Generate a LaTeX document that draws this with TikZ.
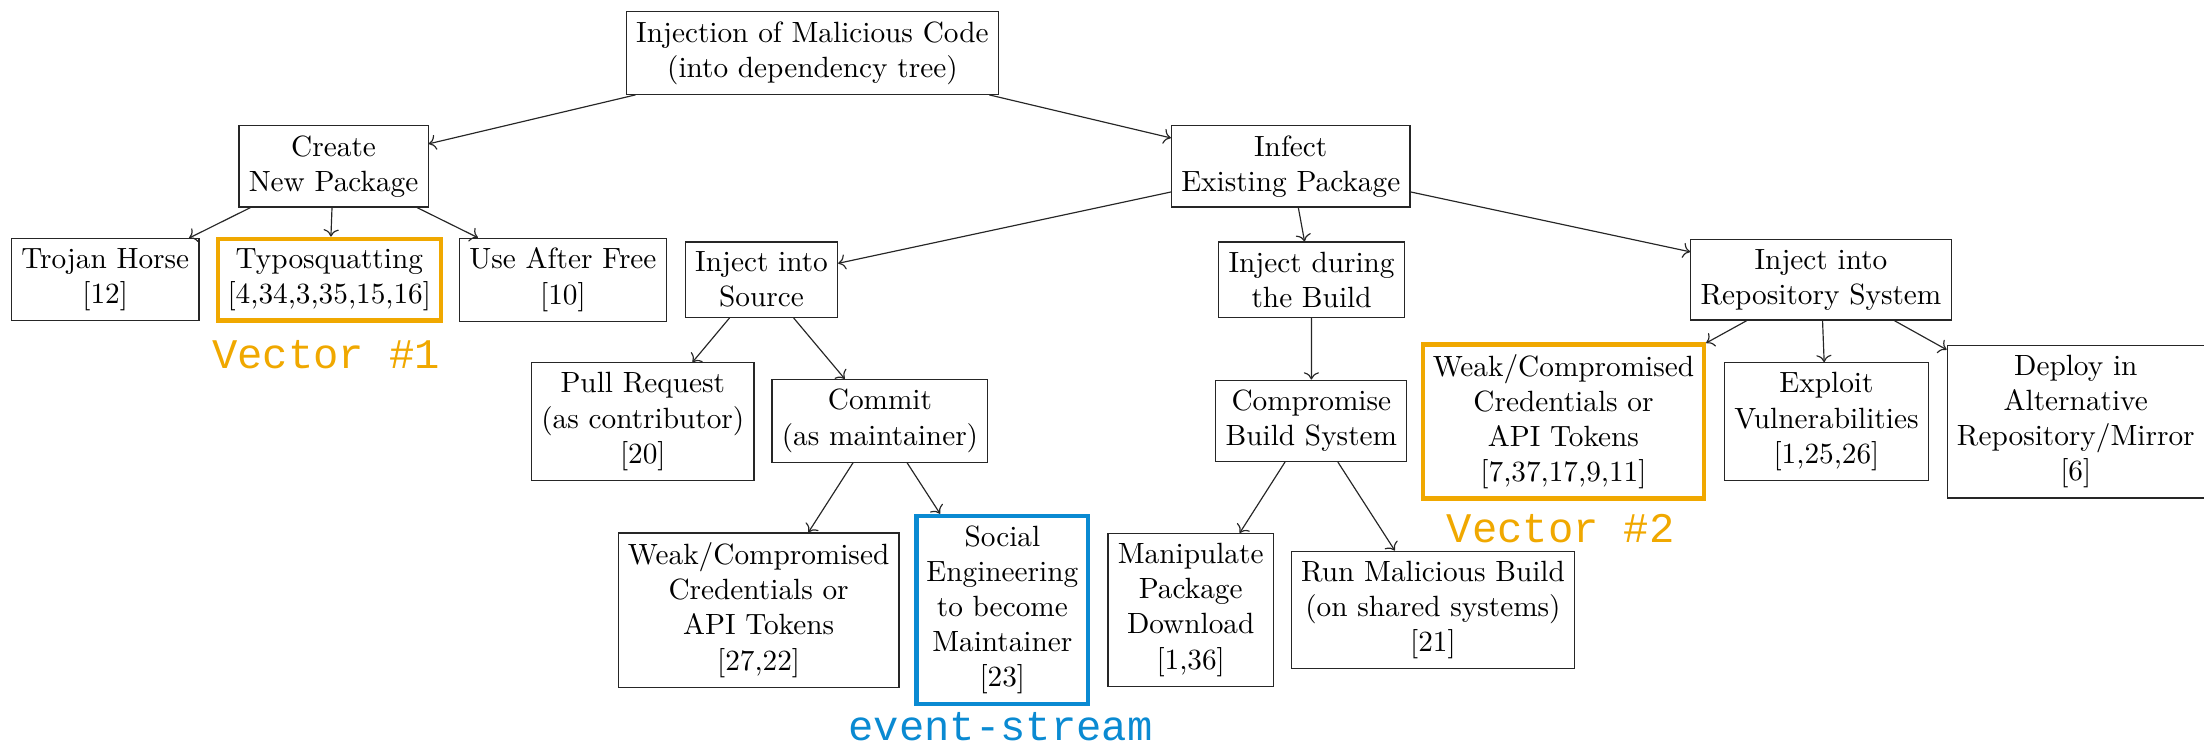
\documentclass[tikz,border=0pt]{standalone}
\usepackage{fontspec}
\usetikzlibrary{arrows.meta, positioning}
\newfontfamily\vecfont{Liberation Mono}
\definecolor{vecorange}{HTML}{F0A800}
\definecolor{vecblue}{HTML}{0A8AD2}

\begin{document}
\begin{tikzpicture}[
		box/.style={draw=black!85, align=center},
		hlbox/.style={draw=#1, line width=1.5pt, align=center},
		arr/.style={->, black!85},
		tag/.style={font=\vecfont\fontsize{14.4}{17}\selectfont, text=#1, inner sep=0pt},
		]
		\useasboundingbox (0,0) rectangle (26.45,-8.96);

		% Root
		\node[box] (root) at (9.750,-0.636)
		{Injection of Malicious Code\\(into dependency tree)};

		% Level 1
		\node[box] (create) at (4.003,-1.996) {Create\\New Package};
		\node[box] (infect) at (15.490,-1.996) {Infect\\Existing Package};

		% Level 2
		\node[box] (trojan) at (1.263,-3.357) {Trojan Horse\\{[12]}};
		\node[hlbox=vecorange] (typo) at (3.952,-3.357)
		{Typosquatting\\{[4,34,3,35,15,16]}};
		\node[box] (uaf) at (6.756,-3.357) {Use After Free\\{[10]}};
		\node[box] (src) at (9.139,-3.357) {Inject into\\Source};
		\node[box] (build) at (15.740,-3.357) {Inject during\\the Build};
		\node[box] (repo) at (21.853,-3.357) {Inject into\\Repository System};

		% Level 3
		\node[box] (pr) at (7.714,-5.059) {Pull Request\\(as contributor)\\{[20]}};
		\node[box] (commit) at (10.560,-5.050) {Commit\\(as maintainer)};
		\node[box] (cbs) at (15.737,-5.050) {Compromise\\Build System};
		\node[hlbox=vecorange] (weakrepo) at (18.763,-5.059)
		{Weak/Compromised\\Credentials or\\API Tokens\\{[7,37,17,9,11]}};
		\node[box] (exploit) at (21.919,-5.059)
		{Exploit\\Vulnerabilities\\{[1,25,26]}};
		\node[box] (deploy) at (24.911,-5.060)
		{Deploy in\\Alternative\\Repository/Mirror\\{[6]}};

		% Level 4
		\node[box] (weakcommit) at (9.104,-7.321)
		{Weak/Compromised\\Credentials or\\API Tokens\\{[27,22]}};
		\node[hlbox=vecblue] (social) at (12.029,-7.321)
		{Social\\Engineering\\to become\\Maintainer\\{[23]}};
		\node[box] (manip) at (14.289,-7.319)
		{Manipulate\\Package\\Download\\{[1,36]}};
		\node[box] (runbuild) at (17.197,-7.319)
		{Run Malicious Build\\(on shared systems)\\{[21]}};

		% Tags
		\node[tag=vecorange] (vec1) at (3.913,-4.259) {Vector \#1};
		\node[tag=vecorange] (vec2) at (18.730,-6.342) {Vector \#2};
		\node[tag=vecblue, anchor=base] (evs) at (12.007,-8.89) {event-stream};

		% Arrows
		\draw[arr] (root) -- (create);
		\draw[arr] (root) -- (infect);
		\foreach \c in {trojan, typo, uaf} {
			\draw[arr] (create) -- (\c);
		}
		\foreach \c in {src, build, repo} {
			\draw[arr] (infect) -- (\c);
		}
		\draw[arr] (src) -- (pr);
		\draw[arr] (src) -- (commit);
		\draw[arr] (build) -- (cbs);
		\foreach \c in {weakrepo, exploit, deploy} {
			\draw[arr] (repo) -- (\c);
		}
		\draw[arr] (commit) -- (weakcommit);
		\draw[arr] (commit) -- (social);
		\draw[arr] (cbs) -- (manip);
		\draw[arr] (cbs) -- (runbuild);
	\end{tikzpicture}
\end{document}
